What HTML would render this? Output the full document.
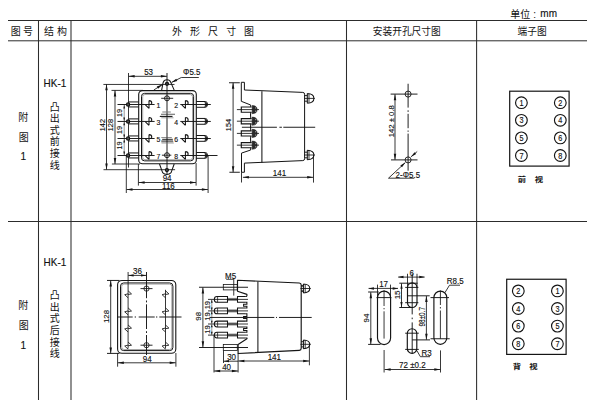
<!DOCTYPE html>
<html lang="zh"><head><meta charset="utf-8"><title>HK-1 外形及安装开孔尺寸图</title>
<style>
html,body{margin:0;padding:0;background:#fff}
body{width:600px;height:400px;overflow:hidden;font-family:"Liberation Sans","Noto Sans CJK SC",sans-serif}
svg{display:block}
svg text{font-family:"Liberation Sans","Noto Sans CJK SC",sans-serif}
</style></head><body>
<svg width="600" height="400" viewBox="0 0 600 400">
<title>HK-1 外形尺寸图 / 安装开孔尺寸图 / 端子图（单位：mm）</title>
<desc>图号 结构 外形尺寸图 安装开孔尺寸图 端子图；附图1 HK-1 凸出式前接线（前视）；附图1 HK-1 凸出式后接线（背视）</desc>
<rect width="600" height="400" fill="#fff"/>
<line x1="8" y1="20.5" x2="587" y2="20.5" stroke="#2c2c2c" stroke-width="1"/>
<line x1="8" y1="40.8" x2="587" y2="40.8" stroke="#2c2c2c" stroke-width="1"/>
<line x1="8" y1="221.5" x2="587" y2="221.5" stroke="#2c2c2c" stroke-width="1"/>
<line x1="38.5" y1="20" x2="38.5" y2="400" stroke="#2c2c2c" stroke-width="1.05"/>
<line x1="71" y1="20" x2="71" y2="400" stroke="#2c2c2c" stroke-width="1.05"/>
<line x1="346.5" y1="20" x2="346.5" y2="400" stroke="#2c2c2c" stroke-width="1.05"/>
<line x1="476.6" y1="20" x2="476.6" y2="400" stroke="#2c2c2c" stroke-width="1.05"/>
<text transform="translate(10.75 35.1) scale(1 1.06)" font-size="10" text-anchor="start" fill="#111">图</text>
<text transform="translate(22.92 35.1) scale(1 1.06)" font-size="10" text-anchor="start" fill="#111">号</text>
<text transform="translate(44.04 35.1) scale(1 1.06)" font-size="10" text-anchor="start" fill="#111">结</text>
<text transform="translate(56.91 35.1) scale(1 1.06)" font-size="10" text-anchor="start" fill="#111">构</text>
<text transform="translate(171.98 35.1) scale(1 1.06)" font-size="10" text-anchor="start" fill="#111">外</text>
<text transform="translate(190 35.1) scale(1 1.06)" font-size="10" text-anchor="start" fill="#111">形</text>
<text transform="translate(208.04 35.1) scale(1 1.06)" font-size="10" text-anchor="start" fill="#111">尺</text>
<text transform="translate(226.25 35.1) scale(1 1.06)" font-size="10" text-anchor="start" fill="#111">寸</text>
<text transform="translate(244.09 35.1) scale(1 1.06)" font-size="10" text-anchor="start" fill="#111">图</text>
<text transform="translate(372.8 35.1) scale(1 1.062)" font-size="9.7" text-anchor="start" fill="#111">安装开孔尺寸图</text>
<text transform="translate(517.6 35.1) scale(1 1.062)" font-size="9.7" text-anchor="start" fill="#111">端子图</text>
<text transform="translate(510.3 17.6) scale(1 1.06)" font-size="10" text-anchor="start" fill="#111">单位</text>
<text transform="translate(533.2 17.6) scale(1 1.06)" font-size="10" text-anchor="start" fill="#111">:</text>
<text transform="translate(540.3 17.4) scale(1 1)" font-size="10" text-anchor="start" fill="#111" stroke="#111" stroke-width="0.13">mm</text>
<text transform="translate(18.27 120.6) scale(1 1.06)" font-size="10" text-anchor="start" fill="#111">附</text>
<text transform="translate(18.75 140.6) scale(1 1.06)" font-size="10" text-anchor="start" fill="#111">图</text>
<text transform="translate(23.3 160.2) scale(1 1)" font-size="10" text-anchor="middle" fill="#111" stroke="#111" stroke-width="0.13">1</text>
<text transform="translate(18.27 309.1) scale(1 1.06)" font-size="10" text-anchor="start" fill="#111">附</text>
<text transform="translate(18.75 329.1) scale(1 1.06)" font-size="10" text-anchor="start" fill="#111">图</text>
<text transform="translate(23.3 348.7) scale(1 1)" font-size="10" text-anchor="middle" fill="#111" stroke="#111" stroke-width="0.13">1</text>
<text transform="translate(54.9 86.9) scale(1 1.07)" font-size="10" text-anchor="middle" fill="#111" stroke="#111" stroke-width="0.13">HK-1</text>
<text transform="translate(54.9 265.7) scale(1 1.07)" font-size="10" text-anchor="middle" fill="#111" stroke="#111" stroke-width="0.13">HK-1</text>
<text transform="translate(49.75 110.5) scale(1 1.06)" font-size="10" text-anchor="start" fill="#111">凸</text>
<text transform="translate(49.75 122.13) scale(1 1.06)" font-size="10" text-anchor="start" fill="#111">出</text>
<text transform="translate(49.75 133.76) scale(1 1.06)" font-size="10" text-anchor="start" fill="#111">式</text>
<text transform="translate(49.75 145.39) scale(1 1.06)" font-size="10" text-anchor="start" fill="#111">前</text>
<text transform="translate(49.75 157.02) scale(1 1.06)" font-size="10" text-anchor="start" fill="#111">接</text>
<text transform="translate(49.75 168.65) scale(1 1.06)" font-size="10" text-anchor="start" fill="#111">线</text>
<text transform="translate(49.75 299) scale(1 1.06)" font-size="10" text-anchor="start" fill="#111">凸</text>
<text transform="translate(49.75 310.68) scale(1 1.06)" font-size="10" text-anchor="start" fill="#111">出</text>
<text transform="translate(49.75 322.36) scale(1 1.06)" font-size="10" text-anchor="start" fill="#111">式</text>
<text transform="translate(49.75 334.04) scale(1 1.06)" font-size="10" text-anchor="start" fill="#111">后</text>
<text transform="translate(49.75 345.72) scale(1 1.06)" font-size="10" text-anchor="start" fill="#111">接</text>
<text transform="translate(49.75 357.4) scale(1 1.06)" font-size="10" text-anchor="start" fill="#111">线</text>
<rect x="138.7" y="90.65" width="57.6" height="73.15" rx="3.8" fill="none" stroke="#141414" stroke-width="1.1"/>
<rect x="141.5" y="93.35" width="52.1" height="67.5" rx="3" fill="none" stroke="#141414" stroke-width="1"/>
<rect x="142.7" y="94.5" width="49.8" height="65.2" rx="2.2" fill="none" stroke="#777" stroke-width="0.65"/>
<line x1="103.4" y1="84.45" x2="174.5" y2="84.45" stroke="#141414" stroke-width="0.85"/>
<line x1="103.5" y1="169.7" x2="175.1" y2="169.7" stroke="#141414" stroke-width="0.85"/>
<line x1="111.5" y1="90.4" x2="143" y2="90.4" stroke="#141414" stroke-width="0.85"/>
<line x1="111.9" y1="164" x2="140" y2="164" stroke="#141414" stroke-width="0.85"/>
<line x1="106.5" y1="84.3" x2="106.5" y2="169.6" stroke="#141414" stroke-width="0.85"/>
<path d="M106.5,84.3L107.75,90.3L105.25,90.3Z" fill="#141414"/>
<path d="M106.5,169.6L105.25,163.6L107.75,163.6Z" fill="#141414"/>
<line x1="115" y1="90.4" x2="115" y2="164" stroke="#141414" stroke-width="0.85"/>
<path d="M115,90.4L116.25,96.4L113.75,96.4Z" fill="#141414"/>
<path d="M115,164L113.75,158L116.25,158Z" fill="#141414"/>
<text transform="translate(105 125.1) rotate(-90) scale(1 1)" font-size="7.4" text-anchor="middle" fill="#111" stroke="#111" stroke-width="0.13">142</text>
<text transform="translate(113.4 125.1) rotate(-90) scale(1 1)" font-size="7.4" text-anchor="middle" fill="#111" stroke="#111" stroke-width="0.13">128</text>
<line x1="124.2" y1="104.5" x2="124.2" y2="121.45" stroke="#444" stroke-width="0.55"/>
<path d="M124.2,104.8L125.08,108.4L123.33,108.4Z" fill="#141414"/>
<path d="M124.2,121.15L123.33,117.55L125.08,117.55Z" fill="#141414"/>
<text transform="translate(122.2 112.97) rotate(-90) scale(1 1)" font-size="7.4" text-anchor="middle" fill="#111" stroke="#111" stroke-width="0.13">19</text>
<line x1="124.2" y1="121.45" x2="124.2" y2="138.5" stroke="#444" stroke-width="0.55"/>
<path d="M124.2,121.75L125.08,125.35L123.33,125.35Z" fill="#141414"/>
<path d="M124.2,138.2L123.33,134.6L125.08,134.6Z" fill="#141414"/>
<text transform="translate(122.2 129.97) rotate(-90) scale(1 1)" font-size="7.4" text-anchor="middle" fill="#111" stroke="#111" stroke-width="0.13">19</text>
<line x1="124.2" y1="138.5" x2="124.2" y2="155.5" stroke="#444" stroke-width="0.55"/>
<path d="M124.2,138.8L125.08,142.4L123.33,142.4Z" fill="#141414"/>
<path d="M124.2,155.2L123.33,151.6L125.08,151.6Z" fill="#141414"/>
<text transform="translate(122.2 145.4) rotate(-90) scale(1 1)" font-size="7.4" text-anchor="middle" fill="#111" stroke="#111" stroke-width="0.13">19</text>
<line x1="128.5" y1="73" x2="128.5" y2="167.5" stroke="#141414" stroke-width="0.85"/>
<line x1="167" y1="73" x2="167" y2="174.5" stroke="#141414" stroke-width="0.95"/>
<line x1="128.6" y1="76.3" x2="166.9" y2="76.3" stroke="#141414" stroke-width="0.85"/>
<path d="M128.6,76.3L134.6,75.05L134.6,77.55Z" fill="#141414"/>
<path d="M166.9,76.3L160.9,77.55L160.9,75.05Z" fill="#141414"/>
<text transform="translate(148.6 75.2) scale(1 1.12)" font-size="8" text-anchor="middle" fill="#111" stroke="#111" stroke-width="0.13">53</text>
<line x1="117.5" y1="104.5" x2="154.6" y2="104.5" stroke="#141414" stroke-width="0.95"/>
<circle cx="128.1" cy="104.5" r="1.6" fill="#555" stroke="#141414" stroke-width="1.2"/>
<line x1="128.5" y1="101.95" x2="138.6" y2="101.95" stroke="#141414" stroke-width="1"/>
<line x1="128.5" y1="106.95" x2="138.6" y2="106.95" stroke="#141414" stroke-width="1"/>
<path d="M149,100.6V108.4M149,100.6C150.6,100.6 151.8,101.8 151.8,103.2C151.8,104 151.1,104.5 150,104.5M149,108.4L145.4,104.9" fill="none" stroke="#141414" stroke-width="1.05"/>
<line x1="180.3" y1="104.5" x2="210.8" y2="104.5" stroke="#141414" stroke-width="0.95"/>
<path d="M185.4,100.6V108.4M185.4,100.6C187,100.6 188.2,101.8 188.2,103.2C188.2,104 187.5,104.5 186.4,104.5M185.4,108.4L181.8,104.9" fill="none" stroke="#141414" stroke-width="1.05"/>
<path d="M196.4,101.5H205.4Q207.4,101.5 207.4,104.3Q207.4,107.3 205.4,107.3H196.4" fill="none" stroke="#141414" stroke-width="1"/>
<path d="M204.8,101.9L208,104.5L204.8,106.9L205.6,104.5Z" fill="#141414" stroke="#141414" stroke-width="0.55"/>
<text transform="translate(158.5 107.7) scale(1 1.15)" font-size="6.9" text-anchor="middle" fill="#111" stroke="#111" stroke-width="0.13">1</text>
<text transform="translate(176.1 107.7) scale(1 1.15)" font-size="6.9" text-anchor="middle" fill="#111" stroke="#111" stroke-width="0.13">2</text>
<line x1="117.5" y1="121.45" x2="154.6" y2="121.45" stroke="#141414" stroke-width="0.95"/>
<circle cx="128.1" cy="121.45" r="1.6" fill="#555" stroke="#141414" stroke-width="1.2"/>
<line x1="128.5" y1="118.9" x2="138.6" y2="118.9" stroke="#141414" stroke-width="1"/>
<line x1="128.5" y1="123.9" x2="138.6" y2="123.9" stroke="#141414" stroke-width="1"/>
<path d="M149,117.55V125.35M149,117.55C150.6,117.55 151.8,118.75 151.8,120.15C151.8,120.95 151.1,121.45 150,121.45M149,125.35L145.4,121.85" fill="none" stroke="#141414" stroke-width="1.05"/>
<line x1="180.3" y1="121.45" x2="210.8" y2="121.45" stroke="#141414" stroke-width="0.95"/>
<path d="M185.4,117.55V125.35M185.4,117.55C187,117.55 188.2,118.75 188.2,120.15C188.2,120.95 187.5,121.45 186.4,121.45M185.4,125.35L181.8,121.85" fill="none" stroke="#141414" stroke-width="1.05"/>
<path d="M196.4,118.45H205.4Q207.4,118.45 207.4,121.25Q207.4,124.25 205.4,124.25H196.4" fill="none" stroke="#141414" stroke-width="1"/>
<path d="M204.8,118.85L208,121.45L204.8,123.85L205.6,121.45Z" fill="#141414" stroke="#141414" stroke-width="0.55"/>
<text transform="translate(158.5 124.65) scale(1 1.15)" font-size="6.9" text-anchor="middle" fill="#111" stroke="#111" stroke-width="0.13">3</text>
<text transform="translate(176.1 124.65) scale(1 1.15)" font-size="6.9" text-anchor="middle" fill="#111" stroke="#111" stroke-width="0.13">4</text>
<line x1="117.5" y1="138.5" x2="154.6" y2="138.5" stroke="#141414" stroke-width="0.95"/>
<circle cx="128.1" cy="138.5" r="1.6" fill="#555" stroke="#141414" stroke-width="1.2"/>
<line x1="128.5" y1="135.95" x2="138.6" y2="135.95" stroke="#141414" stroke-width="1"/>
<line x1="128.5" y1="140.95" x2="138.6" y2="140.95" stroke="#141414" stroke-width="1"/>
<path d="M149,134.6V142.4M149,134.6C150.6,134.6 151.8,135.8 151.8,137.2C151.8,138 151.1,138.5 150,138.5M149,142.4L145.4,138.9" fill="none" stroke="#141414" stroke-width="1.05"/>
<line x1="180.3" y1="138.5" x2="210.8" y2="138.5" stroke="#141414" stroke-width="0.95"/>
<path d="M185.4,134.6V142.4M185.4,134.6C187,134.6 188.2,135.8 188.2,137.2C188.2,138 187.5,138.5 186.4,138.5M185.4,142.4L181.8,138.9" fill="none" stroke="#141414" stroke-width="1.05"/>
<path d="M196.4,135.5H205.4Q207.4,135.5 207.4,138.3Q207.4,141.3 205.4,141.3H196.4" fill="none" stroke="#141414" stroke-width="1"/>
<path d="M204.8,135.9L208,138.5L204.8,140.9L205.6,138.5Z" fill="#141414" stroke="#141414" stroke-width="0.55"/>
<text transform="translate(158.5 141.7) scale(1 1.15)" font-size="6.9" text-anchor="middle" fill="#111" stroke="#111" stroke-width="0.13">5</text>
<text transform="translate(176.1 141.7) scale(1 1.15)" font-size="6.9" text-anchor="middle" fill="#111" stroke="#111" stroke-width="0.13">6</text>
<line x1="117.5" y1="155.5" x2="154.6" y2="155.5" stroke="#141414" stroke-width="0.95"/>
<circle cx="128.1" cy="155.5" r="1.6" fill="#555" stroke="#141414" stroke-width="1.2"/>
<line x1="128.5" y1="152.95" x2="138.6" y2="152.95" stroke="#141414" stroke-width="1"/>
<line x1="128.5" y1="157.95" x2="138.6" y2="157.95" stroke="#141414" stroke-width="1"/>
<path d="M149,151.6V159.4M149,151.6C150.6,151.6 151.8,152.8 151.8,154.2C151.8,155 151.1,155.5 150,155.5M149,159.4L145.4,155.9" fill="none" stroke="#141414" stroke-width="1.05"/>
<line x1="180.3" y1="155.5" x2="217.5" y2="155.5" stroke="#141414" stroke-width="0.95"/>
<path d="M185.4,151.6V159.4M185.4,151.6C187,151.6 188.2,152.8 188.2,154.2C188.2,155 187.5,155.5 186.4,155.5M185.4,159.4L181.8,155.9" fill="none" stroke="#141414" stroke-width="1.05"/>
<path d="M196.4,152.5H205.4Q207.4,152.5 207.4,155.3Q207.4,158.3 205.4,158.3H196.4" fill="none" stroke="#141414" stroke-width="1"/>
<path d="M204.8,152.9L208,155.5L204.8,157.9L205.6,155.5Z" fill="#141414" stroke="#141414" stroke-width="0.55"/>
<text transform="translate(158.5 158.7) scale(1 1.15)" font-size="6.9" text-anchor="middle" fill="#111" stroke="#111" stroke-width="0.13">7</text>
<text transform="translate(176.1 158.7) scale(1 1.15)" font-size="6.9" text-anchor="middle" fill="#111" stroke="#111" stroke-width="0.13">8</text>
<circle cx="167" cy="98.3" r="2.5" fill="none" stroke="#141414" stroke-width="0.95"/>
<line x1="161.2" y1="98.3" x2="173.2" y2="98.3" stroke="#141414" stroke-width="0.9"/>
<circle cx="167" cy="155.2" r="2.5" fill="none" stroke="#141414" stroke-width="0.95"/>
<line x1="161.9" y1="155.2" x2="171.3" y2="155.2" stroke="#141414" stroke-width="0.9"/>
<line x1="162.3" y1="112" x2="170.8" y2="112" stroke="#777" stroke-width="0.95"/>
<line x1="161" y1="114.25" x2="175" y2="114.25" stroke="#2a2a2a" stroke-width="0.75"/>
<line x1="159.8" y1="116.4" x2="172.5" y2="116.4" stroke="#141414" stroke-width="1.1"/>
<line x1="161.3" y1="117.8" x2="173.5" y2="117.8" stroke="#777" stroke-width="0.7"/>
<line x1="161.3" y1="137.5" x2="171.8" y2="137.5" stroke="#444" stroke-width="0.6"/>
<line x1="162.2" y1="139.3" x2="172.8" y2="139.3" stroke="#141414" stroke-width="0.95"/>
<line x1="161.3" y1="140.75" x2="173" y2="140.75" stroke="#333" stroke-width="0.65"/>
<line x1="161.3" y1="141.8" x2="173.3" y2="141.8" stroke="#141414" stroke-width="0.7"/>
<line x1="161.5" y1="143.1" x2="173.8" y2="143.1" stroke="#777" stroke-width="0.6"/>
<path d="M161.6,90.4L163.1,82.6A4.1,4.1 0 0 1 170.9,82.6L174.3,90.4" fill="none" stroke="#141414" stroke-width="1.05"/>
<circle cx="167" cy="83.8" r="1.5" fill="#444" stroke="#141414" stroke-width="1.25"/>
<path d="M159.5,164L162.6,172.6A5.7,5.7 0 0 0 171.1,172.6L174.2,164" fill="none" stroke="#141414" stroke-width="1.05"/>
<circle cx="166.9" cy="170" r="1.5" fill="#555" stroke="#141414" stroke-width="1.25"/>
<text transform="translate(183 75) scale(1 1.12)" font-size="8" text-anchor="start" fill="#111" stroke="#111" stroke-width="0.13">Φ5.5</text>
<path d="M198.8,77.5H181.3L171.6,82.4" fill="none" stroke="#141414" stroke-width="0.85"/>
<path d="M171.4,82.5L176.19,78.68L177.32,80.91Z" fill="#141414"/>
<line x1="153.8" y1="90" x2="162.3" y2="84.6" stroke="#141414" stroke-width="0.85"/>
<path d="M162.5,84.4L158.13,88.7L156.78,86.6Z" fill="#141414"/>
<line x1="138.4" y1="164" x2="138.4" y2="185.6" stroke="#141414" stroke-width="0.85"/>
<line x1="196.1" y1="163" x2="196.1" y2="185.6" stroke="#141414" stroke-width="0.85"/>
<line x1="138.6" y1="182.5" x2="196" y2="182.5" stroke="#141414" stroke-width="0.85"/>
<path d="M138.6,182.5L144.6,181.25L144.6,183.75Z" fill="#141414"/>
<path d="M196,182.5L190,183.75L190,181.25Z" fill="#141414"/>
<text transform="translate(167.1 180.8) scale(1 1.12)" font-size="8" text-anchor="middle" fill="#111" stroke="#111" stroke-width="0.13">94</text>
<line x1="126.3" y1="156" x2="126.3" y2="193" stroke="#141414" stroke-width="0.85"/>
<line x1="208.1" y1="155.6" x2="208.1" y2="193" stroke="#141414" stroke-width="0.85"/>
<line x1="126.5" y1="189.5" x2="207.9" y2="189.5" stroke="#141414" stroke-width="0.85"/>
<path d="M126.5,189.5L132.5,188.25L132.5,190.75Z" fill="#141414"/>
<path d="M207.9,189.5L201.9,190.75L201.9,188.25Z" fill="#141414"/>
<text transform="translate(168.4 188.8) scale(1 1.12)" font-size="8" text-anchor="middle" fill="#111" stroke="#111" stroke-width="0.13">116</text>
<line x1="229" y1="82.75" x2="239.8" y2="82.75" stroke="#141414" stroke-width="0.95"/>
<line x1="229.4" y1="172.25" x2="239.8" y2="172.25" stroke="#141414" stroke-width="0.95"/>
<line x1="233.1" y1="82.75" x2="233.1" y2="172.25" stroke="#141414" stroke-width="0.85"/>
<path d="M233.1,82.75L234.35,88.75L231.85,88.75Z" fill="#141414"/>
<path d="M233.1,172.25L231.85,166.25L234.35,166.25Z" fill="#141414"/>
<text transform="translate(231 125) rotate(-90) scale(1 1)" font-size="7.4" text-anchor="middle" fill="#111" stroke="#111" stroke-width="0.13">154</text>
<path d="M241.3,101.3V82.3H244.4V90L302.8,92.4Q304.6,92.5 304.6,94.2V158.8Q304.6,160.5 302.8,160.6L244.4,163.1V172.25H241.5" fill="none" stroke="#141414" stroke-width="1" stroke-linejoin="round"/>
<path d="M241.3,101.3L250.7,105V106.9" fill="none" stroke="#141414" stroke-width="1"/>
<path d="M250.7,147.6V150L241.5,153.1" fill="none" stroke="#141414" stroke-width="1"/>
<line x1="241.5" y1="153.1" x2="241.5" y2="172.25" stroke="#141414" stroke-width="1"/>
<line x1="241.5" y1="172.25" x2="241.5" y2="182.5" stroke="#141414" stroke-width="0.85"/>
<line x1="236.9" y1="109.6" x2="259" y2="109.6" stroke="#141414" stroke-width="0.85"/>
<path d="M251.6,107H241.3V112.2H251.6" fill="none" stroke="#141414" stroke-width="1.15"/>
<path d="M252.2,105.5Q257.2,105.7 257.1,109.6Q257.2,113.5 252.2,113.7Z" fill="#2a2a2a" stroke="#141414" stroke-width="0.55"/>
<path d="M255.7,107.3v1.3M255.7,110.6v1.3" stroke="#ddd" stroke-width="0.7" fill="none"/>
<path d="M250.8,112.2Q250.2,115.4 250.8,118.6" fill="none" stroke="#141414" stroke-width="1.05"/>
<line x1="236.9" y1="121.2" x2="259" y2="121.2" stroke="#141414" stroke-width="0.85"/>
<path d="M251.6,118.6H241.3V123.8H251.6" fill="none" stroke="#141414" stroke-width="1.15"/>
<path d="M252.2,117.1Q257.2,117.3 257.1,121.2Q257.2,125.1 252.2,125.3Z" fill="#2a2a2a" stroke="#141414" stroke-width="0.55"/>
<path d="M255.7,118.9v1.3M255.7,122.2v1.3" stroke="#ddd" stroke-width="0.7" fill="none"/>
<path d="M250.8,123.8Q250.2,127.3 250.8,130.8" fill="none" stroke="#141414" stroke-width="1.05"/>
<line x1="236.9" y1="133.4" x2="259" y2="133.4" stroke="#141414" stroke-width="0.85"/>
<path d="M251.6,130.8H241.3V136H251.6" fill="none" stroke="#141414" stroke-width="1.15"/>
<path d="M252.2,129.3Q257.2,129.5 257.1,133.4Q257.2,137.3 252.2,137.5Z" fill="#2a2a2a" stroke="#141414" stroke-width="0.55"/>
<path d="M255.7,131.1v1.3M255.7,134.4v1.3" stroke="#ddd" stroke-width="0.7" fill="none"/>
<path d="M250.8,136Q250.2,139.28 250.8,142.55" fill="none" stroke="#141414" stroke-width="1.05"/>
<line x1="236.9" y1="145.15" x2="259" y2="145.15" stroke="#141414" stroke-width="0.85"/>
<path d="M251.6,142.55H241.3V147.75H251.6" fill="none" stroke="#141414" stroke-width="1.15"/>
<path d="M252.2,141.05Q257.2,141.25 257.1,145.15Q257.2,149.05 252.2,149.25Z" fill="#2a2a2a" stroke="#141414" stroke-width="0.55"/>
<path d="M255.7,142.85v1.3M255.7,146.15v1.3" stroke="#ddd" stroke-width="0.7" fill="none"/>
<line x1="261.9" y1="91.2" x2="261.9" y2="162.4" stroke="#141414" stroke-width="1.05"/>
<line x1="241.9" y1="127.25" x2="276.9" y2="127.25" stroke="#141414" stroke-width="0.95"/>
<line x1="279.4" y1="127.25" x2="281.9" y2="127.25" stroke="#141414" stroke-width="0.95"/>
<line x1="283.3" y1="127.25" x2="315.2" y2="127.25" stroke="#141414" stroke-width="0.95"/>
<path d="M304.6,95.6H307.3M304.6,101.2H307.3" fill="none" stroke="#141414" stroke-width="0.95"/>
<path d="M307.3,93.6V103.2M307.3,93.6Q313.9,93.9 313.9,98.4Q313.9,102.9 307.3,103.2" fill="none" stroke="#141414" stroke-width="1.05"/>
<line x1="304" y1="98.4" x2="314.9" y2="98.4" stroke="#141414" stroke-width="0.85"/>
<line x1="309" y1="93.9" x2="309" y2="102.9" stroke="#141414" stroke-width="0.85"/>
<path d="M304.6,152.2H307.3M304.6,157.8H307.3" fill="none" stroke="#141414" stroke-width="0.95"/>
<path d="M307.3,150.2V159.8M307.3,150.2Q313.9,150.5 313.9,155Q313.9,159.5 307.3,159.8" fill="none" stroke="#141414" stroke-width="1.05"/>
<line x1="304" y1="155" x2="314.9" y2="155" stroke="#141414" stroke-width="0.85"/>
<line x1="309" y1="150.5" x2="309" y2="159.5" stroke="#141414" stroke-width="0.85"/>
<line x1="313.5" y1="155" x2="313.5" y2="182.6" stroke="#141414" stroke-width="0.85"/>
<line x1="242.9" y1="177.3" x2="313.2" y2="177.3" stroke="#141414" stroke-width="0.85"/>
<path d="M242.9,177.3L248.9,176.05L248.9,178.55Z" fill="#141414"/>
<path d="M313.2,177.3L307.2,178.55L307.2,176.05Z" fill="#141414"/>
<text transform="translate(279.5 175.8) scale(1 1.12)" font-size="8" text-anchor="middle" fill="#111" stroke="#111" stroke-width="0.13">141</text>
<circle cx="408.1" cy="94.1" r="3" fill="none" stroke="#141414" stroke-width="0.9"/>
<circle cx="408.1" cy="159.9" r="3" fill="none" stroke="#141414" stroke-width="0.9"/>
<line x1="390.6" y1="94.1" x2="417.5" y2="94.1" stroke="#141414" stroke-width="0.95"/>
<line x1="391" y1="159.9" x2="417.5" y2="159.9" stroke="#141414" stroke-width="0.95"/>
<line x1="408.1" y1="83.75" x2="408.1" y2="107.6" stroke="#141414" stroke-width="0.95"/>
<line x1="408.1" y1="110.3" x2="408.1" y2="111.9" stroke="#141414" stroke-width="0.95"/>
<line x1="408.1" y1="113.8" x2="408.1" y2="128.2" stroke="#141414" stroke-width="0.95"/>
<line x1="408.1" y1="130.5" x2="408.1" y2="131.8" stroke="#141414" stroke-width="0.95"/>
<line x1="408.1" y1="133.6" x2="408.1" y2="170.7" stroke="#141414" stroke-width="0.95"/>
<line x1="395" y1="94.3" x2="395" y2="159.7" stroke="#141414" stroke-width="0.85"/>
<path d="M395,94.3L396.25,100.3L393.75,100.3Z" fill="#141414"/>
<path d="M395,159.7L393.75,153.7L396.25,153.7Z" fill="#141414"/>
<text transform="translate(393.6 121.2) rotate(-90) scale(1 1)" font-size="7.7" text-anchor="middle" fill="#111" stroke="#111" stroke-width="0.13">142 ± 0.8</text>
<path d="M414.3,178.2H388.5L405.2,162.7" fill="none" stroke="#141414" stroke-width="0.85"/>
<path d="M405.6,162.3L402.01,167.27L400.32,165.42Z" fill="#141414"/>
<text transform="translate(395.4 177.6) scale(1 1.05)" font-size="7.9" text-anchor="start" fill="#111" stroke="#111" stroke-width="0.13" letter-spacing="0.12">2-Φ5.5</text>
<line x1="417.2" y1="151.5" x2="411.2" y2="156.7" stroke="#141414" stroke-width="0.85"/>
<path d="M410.8,157.1L414.51,152.22L416.15,154.11Z" fill="#141414"/>
<rect x="509.7" y="91.2" width="59.4" height="74.9" fill="none" stroke="#141414" stroke-width="1.2"/>
<circle cx="521.4" cy="102.7" r="5.85" fill="none" stroke="#141414" stroke-width="1.15"/>
<text transform="translate(521.4 105.8) scale(1 1.17)" font-size="7.3" text-anchor="middle" fill="#111" stroke="#111" stroke-width="0.13">1</text>
<circle cx="560.3" cy="102.7" r="5.85" fill="none" stroke="#141414" stroke-width="1.15"/>
<text transform="translate(560.3 105.8) scale(1 1.17)" font-size="7.3" text-anchor="middle" fill="#111" stroke="#111" stroke-width="0.13">2</text>
<circle cx="521.4" cy="120.3" r="5.85" fill="none" stroke="#141414" stroke-width="1.15"/>
<text transform="translate(521.4 123.4) scale(1 1.17)" font-size="7.3" text-anchor="middle" fill="#111" stroke="#111" stroke-width="0.13">3</text>
<circle cx="560.3" cy="120.3" r="5.85" fill="none" stroke="#141414" stroke-width="1.15"/>
<text transform="translate(560.3 123.4) scale(1 1.17)" font-size="7.3" text-anchor="middle" fill="#111" stroke="#111" stroke-width="0.13">4</text>
<circle cx="521.4" cy="137.9" r="5.85" fill="none" stroke="#141414" stroke-width="1.15"/>
<text transform="translate(521.4 141) scale(1 1.17)" font-size="7.3" text-anchor="middle" fill="#111" stroke="#111" stroke-width="0.13">5</text>
<circle cx="560.3" cy="137.9" r="5.85" fill="none" stroke="#141414" stroke-width="1.15"/>
<text transform="translate(560.3 141) scale(1 1.17)" font-size="7.3" text-anchor="middle" fill="#111" stroke="#111" stroke-width="0.13">6</text>
<circle cx="521.4" cy="155.5" r="5.85" fill="none" stroke="#141414" stroke-width="1.15"/>
<text transform="translate(521.4 158.6) scale(1 1.17)" font-size="7.3" text-anchor="middle" fill="#111" stroke="#111" stroke-width="0.13">7</text>
<circle cx="560.3" cy="155.5" r="5.85" fill="none" stroke="#141414" stroke-width="1.15"/>
<text transform="translate(560.3 158.6) scale(1 1.17)" font-size="7.3" text-anchor="middle" fill="#111" stroke="#111" stroke-width="0.13">8</text>
<text transform="translate(517.85 182.3) scale(1 0.867)" font-size="8.3" font-weight="bold" text-anchor="start" fill="#111">前</text>
<text transform="translate(534.64 182.3) scale(1 0.867)" font-size="8.3" font-weight="bold" text-anchor="start" fill="#111">视</text>
<rect x="117.6" y="280.45" width="58.2" height="72.85" rx="4.4" fill="none" stroke="#141414" stroke-width="1.1"/>
<rect x="120.5" y="282.95" width="52.4" height="67.65" rx="3.2" fill="none" stroke="#141414" stroke-width="1"/>
<rect x="121.7" y="284.1" width="50.1" height="65.4" rx="2.4" fill="none" stroke="#777" stroke-width="0.65"/>
<line x1="128.1" y1="272" x2="128.1" y2="348.6" stroke="#141414" stroke-width="0.85"/>
<line x1="146.5" y1="272" x2="146.5" y2="298.2" stroke="#141414" stroke-width="0.95"/>
<line x1="146.5" y1="300.5" x2="146.5" y2="302.4" stroke="#141414" stroke-width="0.95"/>
<line x1="146.5" y1="304.3" x2="146.5" y2="329" stroke="#141414" stroke-width="0.95"/>
<line x1="146.5" y1="331.2" x2="146.5" y2="333" stroke="#141414" stroke-width="0.95"/>
<line x1="146.5" y1="335" x2="146.5" y2="355" stroke="#141414" stroke-width="0.95"/>
<line x1="128.2" y1="275.4" x2="146.4" y2="275.4" stroke="#141414" stroke-width="0.85"/>
<path d="M128.2,275.4L133.6,274.27L133.6,276.52Z" fill="#141414"/>
<path d="M146.4,275.4L141,276.52L141,274.27Z" fill="#141414"/>
<text transform="translate(137.5 273.8) scale(1 1.12)" font-size="8" text-anchor="middle" fill="#111" stroke="#111" stroke-width="0.13">36</text>
<line x1="107" y1="280.45" x2="119.5" y2="280.45" stroke="#141414" stroke-width="0.95"/>
<line x1="107" y1="353.4" x2="119.5" y2="353.4" stroke="#141414" stroke-width="0.95"/>
<line x1="110.7" y1="280.45" x2="110.7" y2="353.4" stroke="#141414" stroke-width="0.85"/>
<path d="M110.7,280.45L111.95,286.45L109.45,286.45Z" fill="#141414"/>
<path d="M110.7,353.4L109.45,347.4L111.95,347.4Z" fill="#141414"/>
<text transform="translate(108.8 316.5) rotate(-90) scale(1 1)" font-size="7.8" text-anchor="middle" fill="#111" stroke="#111" stroke-width="0.13">128</text>
<line x1="117.3" y1="317" x2="132.7" y2="317" stroke="#141414" stroke-width="0.95"/>
<line x1="134.7" y1="317" x2="136" y2="317" stroke="#141414" stroke-width="0.95"/>
<line x1="138.7" y1="317" x2="154.7" y2="317" stroke="#141414" stroke-width="0.95"/>
<line x1="156" y1="317" x2="157.3" y2="317" stroke="#141414" stroke-width="0.95"/>
<line x1="159.3" y1="317" x2="181.5" y2="317" stroke="#141414" stroke-width="0.95"/>
<circle cx="146.5" cy="288.6" r="2.6" fill="none" stroke="#141414" stroke-width="0.85"/>
<line x1="140.5" y1="288.6" x2="152.5" y2="288.6" stroke="#141414" stroke-width="0.9"/>
<circle cx="146.5" cy="345.2" r="2.6" fill="none" stroke="#141414" stroke-width="0.85"/>
<line x1="140.5" y1="345.2" x2="152.5" y2="345.2" stroke="#141414" stroke-width="0.9"/>
<path d="M128.1,290.8L131.5,293.9L128.1,294.5M128.1,293.8L124.7,294.7L128.1,297.8" fill="none" stroke="#141414" stroke-width="0.85"/>
<path d="M165.5,290.8L168.9,293.9L165.5,294.5M165.5,293.8L162.1,294.7L165.5,297.8" fill="none" stroke="#141414" stroke-width="0.85"/>
<path d="M128.1,307.9L131.5,311L128.1,311.6M128.1,310.9L124.7,311.8L128.1,314.9" fill="none" stroke="#141414" stroke-width="0.85"/>
<path d="M165.5,307.9L168.9,311L165.5,311.6M165.5,310.9L162.1,311.8L165.5,314.9" fill="none" stroke="#141414" stroke-width="0.85"/>
<path d="M128.1,325L131.5,328.1L128.1,328.7M128.1,328L124.7,328.9L128.1,332" fill="none" stroke="#141414" stroke-width="0.85"/>
<path d="M165.5,325L168.9,328.1L165.5,328.7M165.5,328L162.1,328.9L165.5,332" fill="none" stroke="#141414" stroke-width="0.85"/>
<path d="M128.1,342.1L131.5,345.2L128.1,345.8M128.1,345.1L124.7,346L128.1,349.1" fill="none" stroke="#141414" stroke-width="0.85"/>
<path d="M165.5,342.1L168.9,345.2L165.5,345.8M165.5,345.1L162.1,346L165.5,349.1" fill="none" stroke="#141414" stroke-width="0.85"/>
<line x1="165.5" y1="289.8" x2="165.5" y2="348.6" stroke="#141414" stroke-width="0.85"/>
<line x1="117.6" y1="353" x2="117.6" y2="366.7" stroke="#141414" stroke-width="0.85"/>
<line x1="175.9" y1="353" x2="175.9" y2="366.7" stroke="#141414" stroke-width="0.85"/>
<line x1="117.8" y1="362.8" x2="175.7" y2="362.8" stroke="#141414" stroke-width="0.85"/>
<path d="M117.8,362.8L123.8,361.55L123.8,364.05Z" fill="#141414"/>
<path d="M175.7,362.8L169.7,364.05L169.7,361.55Z" fill="#141414"/>
<text transform="translate(147.3 361.6) scale(1 1.12)" font-size="8" text-anchor="middle" fill="#111" stroke="#111" stroke-width="0.13">94</text>
<text transform="translate(230.6 278.7) scale(1 1.12)" font-size="8" text-anchor="middle" fill="#111" stroke="#111" stroke-width="0.13">M5</text>
<line x1="233.75" y1="279.4" x2="233.75" y2="295.6" stroke="#141414" stroke-width="0.85"/>
<line x1="226.2" y1="279.5" x2="234.2" y2="279.5" stroke="#333" stroke-width="0.75"/>
<rect x="223.3" y="284.4" width="14" height="5.5" fill="none" stroke="#141414" stroke-width="0.8"/>
<line x1="199" y1="287.25" x2="248" y2="287.25" stroke="#141414" stroke-width="0.95"/>
<rect x="223.3" y="344.4" width="14" height="6" fill="none" stroke="#141414" stroke-width="0.8"/>
<line x1="199" y1="347.5" x2="248" y2="347.5" stroke="#141414" stroke-width="0.95"/>
<line x1="202.9" y1="287.4" x2="202.9" y2="347.3" stroke="#141414" stroke-width="0.85"/>
<path d="M202.9,287.4L204.15,293.4L201.65,293.4Z" fill="#141414"/>
<path d="M202.9,347.3L201.65,341.3L204.15,341.3Z" fill="#141414"/>
<text transform="translate(201 316.3) rotate(-90) scale(1 1)" font-size="7.8" text-anchor="middle" fill="#111" stroke="#111" stroke-width="0.13">98</text>
<rect x="227.5" y="297.9" width="10" height="3" fill="#858585"/>
<line x1="208" y1="299.4" x2="248" y2="299.4" stroke="#141414" stroke-width="0.85"/>
<path d="M227.5,296.5H217Q214.3,296.5 214.3,299.4Q214.3,302.3 217,302.3H227.5Z" fill="none" stroke="#141414" stroke-width="1.05"/>
<line x1="217.6" y1="296.5" x2="217.6" y2="302.3" stroke="#141414" stroke-width="0.75"/>
<path d="M245.2,296.5H237.5V302.3H245.2" fill="none" stroke="#141414" stroke-width="1.05"/>
<rect x="227.5" y="309.4" width="10" height="3" fill="#858585"/>
<line x1="208" y1="310.9" x2="248" y2="310.9" stroke="#141414" stroke-width="0.85"/>
<path d="M227.5,308H217Q214.3,308 214.3,310.9Q214.3,313.8 217,313.8H227.5Z" fill="none" stroke="#141414" stroke-width="1.05"/>
<line x1="217.6" y1="308" x2="217.6" y2="313.8" stroke="#141414" stroke-width="0.75"/>
<path d="M245.2,308H237.5V313.8H245.2" fill="none" stroke="#141414" stroke-width="1.05"/>
<rect x="227.5" y="322.5" width="10" height="3" fill="#858585"/>
<line x1="208" y1="324" x2="248" y2="324" stroke="#141414" stroke-width="0.85"/>
<path d="M227.5,321.1H217Q214.3,321.1 214.3,324Q214.3,326.9 217,326.9H227.5Z" fill="none" stroke="#141414" stroke-width="1.05"/>
<line x1="217.6" y1="321.1" x2="217.6" y2="326.9" stroke="#141414" stroke-width="0.75"/>
<path d="M245.2,321.1H237.5V326.9H245.2" fill="none" stroke="#141414" stroke-width="1.05"/>
<rect x="227.5" y="333.6" width="10" height="3" fill="#858585"/>
<line x1="208" y1="335.1" x2="248" y2="335.1" stroke="#141414" stroke-width="0.85"/>
<path d="M227.5,332.2H217Q214.3,332.2 214.3,335.1Q214.3,338 217,338H227.5Z" fill="none" stroke="#141414" stroke-width="1.05"/>
<line x1="217.6" y1="332.2" x2="217.6" y2="338" stroke="#141414" stroke-width="0.75"/>
<path d="M245.2,332.2H237.5V338H245.2" fill="none" stroke="#141414" stroke-width="1.05"/>
<line x1="211.8" y1="299.4" x2="211.8" y2="310.9" stroke="#444" stroke-width="0.55"/>
<path d="M211.8,299.6L212.68,302.72L210.93,302.72Z" fill="#141414"/>
<path d="M211.8,310.7L210.93,307.58L212.68,307.58Z" fill="#141414"/>
<text transform="translate(210 305.15) rotate(-90) scale(1 1)" font-size="7.6" text-anchor="middle" fill="#111" stroke="#111" stroke-width="0.13">19</text>
<line x1="211.8" y1="310.9" x2="211.8" y2="324" stroke="#444" stroke-width="0.55"/>
<path d="M211.8,311.1L212.68,314.22L210.93,314.22Z" fill="#141414"/>
<path d="M211.8,323.8L210.93,320.68L212.68,320.68Z" fill="#141414"/>
<text transform="translate(210 316.55) rotate(-90) scale(1 1)" font-size="7.6" text-anchor="middle" fill="#111" stroke="#111" stroke-width="0.13">19</text>
<line x1="211.8" y1="324" x2="211.8" y2="335.1" stroke="#444" stroke-width="0.55"/>
<path d="M211.8,324.2L212.68,327.32L210.93,327.32Z" fill="#141414"/>
<path d="M211.8,334.9L210.93,331.78L212.68,331.78Z" fill="#141414"/>
<text transform="translate(210 329.55) rotate(-90) scale(1 1)" font-size="7.6" text-anchor="middle" fill="#111" stroke="#111" stroke-width="0.13">19</text>
<path d="M246.9,296.3V294.4L237.5,291.3V280.25L299.3,283Q301.2,283.1 301.2,285V348.3Q301.2,350.3 299.3,350.4L238.1,353.5V344.4L246.9,338.8V338.2" fill="none" stroke="#141414" stroke-width="1.15" stroke-linejoin="round"/>
<path d="M245.2,302.3H246.9V304.15H243.6V306.15H246.9V308H245.2" fill="none" stroke="#141414" stroke-width="1.05"/>
<path d="M245.2,313.8H246.9V316.45H243.6V318.45H246.9V321.1H245.2" fill="none" stroke="#141414" stroke-width="1.05"/>
<path d="M245.2,326.9H246.9V328.55H243.6V330.55H246.9V332.2H245.2" fill="none" stroke="#141414" stroke-width="1.05"/>
<path d="M245.2,296.5H246.9M245.2,338H246.9V338.8" fill="none" stroke="#141414" stroke-width="1.05"/>
<line x1="238.1" y1="353.5" x2="238.1" y2="372.5" stroke="#141414" stroke-width="0.85"/>
<line x1="257.9" y1="281.6" x2="257.9" y2="352.2" stroke="#141414" stroke-width="1.05"/>
<line x1="210" y1="317.45" x2="274.3" y2="317.45" stroke="#141414" stroke-width="0.95"/>
<line x1="276" y1="317.45" x2="277" y2="317.45" stroke="#141414" stroke-width="0.95"/>
<line x1="279" y1="317.45" x2="311.7" y2="317.45" stroke="#141414" stroke-width="0.95"/>
<path d="M301.2,285.9H303.3M301.2,291.1H303.3" fill="none" stroke="#141414" stroke-width="0.95"/>
<path d="M301.2,285.9H303.4M301.2,291.1H303.4" fill="none" stroke="#141414" stroke-width="0.95"/>
<path d="M303.4,284.1V292.9M303.4,284.1Q309.8,284.4 309.8,288.5Q309.8,292.6 303.4,292.9" fill="none" stroke="#141414" stroke-width="1.05"/>
<line x1="300.4" y1="288.5" x2="310.8" y2="288.5" stroke="#141414" stroke-width="0.85"/>
<line x1="305.2" y1="284.4" x2="305.2" y2="292.6" stroke="#141414" stroke-width="0.85"/>
<path d="M301.2,341.7H303.4M301.2,346.9H303.4" fill="none" stroke="#141414" stroke-width="0.95"/>
<path d="M303.4,339.9V348.7M303.4,339.9Q309.8,340.2 309.8,344.3Q309.8,348.4 303.4,348.7" fill="none" stroke="#141414" stroke-width="1.05"/>
<line x1="300.4" y1="344.3" x2="310.8" y2="344.3" stroke="#141414" stroke-width="0.85"/>
<line x1="305.2" y1="340.2" x2="305.2" y2="348.4" stroke="#141414" stroke-width="0.85"/>
<line x1="309.4" y1="344.3" x2="309.4" y2="365.3" stroke="#141414" stroke-width="0.85"/>
<line x1="223.5" y1="350.4" x2="223.5" y2="363" stroke="#141414" stroke-width="0.85"/>
<line x1="223.7" y1="361.2" x2="238.1" y2="361.2" stroke="#141414" stroke-width="0.85"/>
<path d="M223.7,361.2L228.98,360.07L228.98,362.32Z" fill="#141414"/>
<text transform="translate(231.6 359.6) scale(1 1.12)" font-size="8" text-anchor="middle" fill="#111" stroke="#111" stroke-width="0.13">30</text>
<line x1="238.4" y1="361" x2="309.2" y2="361" stroke="#141414" stroke-width="0.85"/>
<path d="M238.4,361L244.4,359.75L244.4,362.25Z" fill="#141414"/>
<path d="M309.2,361L303.2,362.25L303.2,359.75Z" fill="#141414"/>
<text transform="translate(274.3 359.6) scale(1 1.12)" font-size="8" text-anchor="middle" fill="#111" stroke="#111" stroke-width="0.13">141</text>
<line x1="214" y1="335.3" x2="214" y2="372.5" stroke="#141414" stroke-width="0.85"/>
<line x1="214.2" y1="371" x2="237.9" y2="371" stroke="#141414" stroke-width="0.85"/>
<path d="M214.2,371L220.2,369.75L220.2,372.25Z" fill="#141414"/>
<path d="M237.9,371L231.9,372.25L231.9,369.75Z" fill="#141414"/>
<text transform="translate(226.6 369.6) scale(1 1.12)" font-size="8" text-anchor="middle" fill="#111" stroke="#111" stroke-width="0.13">40</text>
<path d="M377.5,297.65A6.55,6.55 0 0 1 390.6,297.65V338.05A6.55,6.55 0 0 1 377.5,338.05Z" fill="none" stroke="#141414" stroke-width="1.15"/>
<path d="M433.9,297.55A6.45,6.45 0 0 1 446.8,297.55V337.85A6.45,6.45 0 0 1 433.9,337.85Z" fill="none" stroke="#141414" stroke-width="1.15"/>
<path d="M407.5,287.55A4.75,4.75 0 0 1 417,287.55V302.75A4.75,4.75 0 0 1 407.5,302.75Z" fill="none" stroke="#141414" stroke-width="1.15"/>
<path d="M407.3,333.45A4.75,4.75 0 0 1 416.8,333.45V348.55A4.75,4.75 0 0 1 407.3,348.55Z" fill="none" stroke="#141414" stroke-width="1.15"/>
<line x1="376.5" y1="297.6" x2="391.4" y2="297.6" stroke="#141414" stroke-width="0.95"/>
<line x1="384.05" y1="290.2" x2="384.05" y2="306" stroke="#141414" stroke-width="0.85"/>
<line x1="384.05" y1="308" x2="384.05" y2="309.3" stroke="#141414" stroke-width="0.85"/>
<line x1="384.05" y1="311.3" x2="384.05" y2="338.6" stroke="#141414" stroke-width="0.85"/>
<line x1="377.5" y1="284.6" x2="377.5" y2="297" stroke="#141414" stroke-width="0.85"/>
<line x1="390.5" y1="284.6" x2="390.5" y2="297" stroke="#141414" stroke-width="0.85"/>
<line x1="368.6" y1="288.4" x2="398" y2="288.4" stroke="#141414" stroke-width="0.85"/>
<path d="M368.4,288.4L373.92,287.15L373.92,289.65Z" fill="#141414"/>
<path d="M398.2,288.4L392.68,289.65L392.68,287.15Z" fill="#141414"/>
<text transform="translate(383.6 286.9) scale(1 1.12)" font-size="8" text-anchor="middle" fill="#111" stroke="#111" stroke-width="0.13">17</text>
<line x1="368.1" y1="292" x2="378.8" y2="292" stroke="#141414" stroke-width="0.95"/>
<line x1="368.1" y1="344.4" x2="380.6" y2="344.4" stroke="#141414" stroke-width="0.95"/>
<line x1="370.8" y1="292.2" x2="370.8" y2="344.2" stroke="#141414" stroke-width="0.85"/>
<path d="M370.8,292.2L372.05,298.2L369.55,298.2Z" fill="#141414"/>
<path d="M370.8,344.2L369.55,338.2L372.05,338.2Z" fill="#141414"/>
<text transform="translate(369.3 318) rotate(-90) scale(1 1)" font-size="7.9" text-anchor="middle" fill="#111" stroke="#111" stroke-width="0.13">94</text>
<line x1="412.2" y1="273.75" x2="412.2" y2="314.4" stroke="#141414" stroke-width="0.95"/>
<line x1="412.2" y1="317.6" x2="412.2" y2="319.2" stroke="#141414" stroke-width="0.95"/>
<line x1="412.2" y1="322.4" x2="412.2" y2="328.8" stroke="#141414" stroke-width="0.95"/>
<line x1="412.2" y1="328.8" x2="412.2" y2="353.3" stroke="#141414" stroke-width="0.95"/>
<line x1="407.5" y1="273.75" x2="407.5" y2="287.5" stroke="#141414" stroke-width="0.85"/>
<line x1="417" y1="273.75" x2="417" y2="287.5" stroke="#141414" stroke-width="0.85"/>
<line x1="398.2" y1="277.1" x2="424.6" y2="277.1" stroke="#141414" stroke-width="0.85"/>
<path d="M398,277.1L403.52,275.85L403.52,278.35Z" fill="#141414"/>
<path d="M424.8,277.1L419.28,278.35L419.28,275.85Z" fill="#141414"/>
<text transform="translate(411.6 276) scale(1 1.12)" font-size="8" text-anchor="middle" fill="#111" stroke="#111" stroke-width="0.13">6</text>
<line x1="405.2" y1="287.4" x2="418.4" y2="287.4" stroke="#141414" stroke-width="0.95"/>
<line x1="405.2" y1="302.7" x2="418.4" y2="302.7" stroke="#141414" stroke-width="0.95"/>
<line x1="399.3" y1="283.2" x2="417.7" y2="283.2" stroke="#141414" stroke-width="0.95"/>
<line x1="399.3" y1="307.5" x2="412.5" y2="307.5" stroke="#141414" stroke-width="0.95"/>
<line x1="401.5" y1="283.4" x2="401.5" y2="307.3" stroke="#141414" stroke-width="0.85"/>
<path d="M401.5,283.4L402.62,288.8L400.38,288.8Z" fill="#141414"/>
<path d="M401.5,307.3L400.38,301.9L402.62,301.9Z" fill="#141414"/>
<text transform="translate(399.9 294.9) rotate(-90) scale(1 1)" font-size="7.9" text-anchor="middle" fill="#111" stroke="#111" stroke-width="0.13">15</text>
<line x1="407.5" y1="295.8" x2="429.7" y2="295.8" stroke="#141414" stroke-width="0.95"/>
<line x1="412.2" y1="339.9" x2="430" y2="339.9" stroke="#141414" stroke-width="0.95"/>
<line x1="426.4" y1="296" x2="426.4" y2="339.7" stroke="#141414" stroke-width="0.85"/>
<path d="M426.4,296L427.65,302L425.15,302Z" fill="#141414"/>
<path d="M426.4,339.7L425.15,333.7L427.65,333.7Z" fill="#141414"/>
<text font-size="7.8" text-anchor="middle" fill="#111" stroke="#111" stroke-width="0.13" textLength="19.6" lengthAdjust="spacingAndGlyphs" transform="translate(424.9 316.8) rotate(-90) scale(1 1.1)">98±0.7</text>
<line x1="405.2" y1="333.2" x2="418.8" y2="333.2" stroke="#141414" stroke-width="0.95"/>
<line x1="405.2" y1="349.4" x2="418.8" y2="349.4" stroke="#141414" stroke-width="0.95"/>
<line x1="430.5" y1="297.6" x2="449" y2="297.6" stroke="#141414" stroke-width="0.95"/>
<line x1="430.5" y1="338.75" x2="449.7" y2="338.75" stroke="#141414" stroke-width="0.95"/>
<line x1="440.4" y1="290.5" x2="440.4" y2="305" stroke="#141414" stroke-width="0.85"/>
<line x1="440.4" y1="307" x2="440.4" y2="308.5" stroke="#141414" stroke-width="0.85"/>
<line x1="440.4" y1="310.5" x2="440.4" y2="338.75" stroke="#141414" stroke-width="0.85"/>
<path d="M445,292.5L449.5,285.2H460" fill="none" stroke="#141414" stroke-width="0.85"/>
<text transform="translate(446.8 284) scale(1 1.12)" font-size="8" text-anchor="start" fill="#111" stroke="#111" stroke-width="0.13">R8.5</text>
<path d="M416.8,350.5L420.4,356.7H430" fill="none" stroke="#141414" stroke-width="0.85"/>
<text transform="translate(421.6 355.9) scale(1 1.12)" font-size="8" text-anchor="start" fill="#111" stroke="#111" stroke-width="0.13">R3</text>
<line x1="384.1" y1="350" x2="384.1" y2="372.5" stroke="#141414" stroke-width="0.85"/>
<line x1="440.5" y1="350.4" x2="440.5" y2="372.5" stroke="#141414" stroke-width="0.85"/>
<line x1="384.6" y1="369.5" x2="440.3" y2="369.5" stroke="#141414" stroke-width="0.85"/>
<path d="M384.6,369.5L390.6,368.25L390.6,370.75Z" fill="#141414"/>
<path d="M440.3,369.5L434.3,370.75L434.3,368.25Z" fill="#141414"/>
<text transform="translate(412.4 367.6) scale(1 1.12)" font-size="8" text-anchor="middle" fill="#111" stroke="#111" stroke-width="0.13">72 ±0.2</text>
<rect x="506.7" y="279.25" width="59.4" height="75.15" fill="none" stroke="#141414" stroke-width="1.2"/>
<circle cx="518.3" cy="290.9" r="5.85" fill="none" stroke="#141414" stroke-width="1.15"/>
<text transform="translate(518.3 294) scale(1 1.17)" font-size="7.3" text-anchor="middle" fill="#111" stroke="#111" stroke-width="0.13">2</text>
<circle cx="557.4" cy="290.9" r="5.85" fill="none" stroke="#141414" stroke-width="1.15"/>
<text transform="translate(557.4 294) scale(1 1.17)" font-size="7.3" text-anchor="middle" fill="#111" stroke="#111" stroke-width="0.13">1</text>
<circle cx="518.3" cy="308.5" r="5.85" fill="none" stroke="#141414" stroke-width="1.15"/>
<text transform="translate(518.3 311.6) scale(1 1.17)" font-size="7.3" text-anchor="middle" fill="#111" stroke="#111" stroke-width="0.13">4</text>
<circle cx="557.4" cy="308.5" r="5.85" fill="none" stroke="#141414" stroke-width="1.15"/>
<text transform="translate(557.4 311.6) scale(1 1.17)" font-size="7.3" text-anchor="middle" fill="#111" stroke="#111" stroke-width="0.13">3</text>
<circle cx="518.3" cy="326.1" r="5.85" fill="none" stroke="#141414" stroke-width="1.15"/>
<text transform="translate(518.3 329.2) scale(1 1.17)" font-size="7.3" text-anchor="middle" fill="#111" stroke="#111" stroke-width="0.13">6</text>
<circle cx="557.4" cy="326.1" r="5.85" fill="none" stroke="#141414" stroke-width="1.15"/>
<text transform="translate(557.4 329.2) scale(1 1.17)" font-size="7.3" text-anchor="middle" fill="#111" stroke="#111" stroke-width="0.13">5</text>
<circle cx="518.3" cy="343.7" r="5.85" fill="none" stroke="#141414" stroke-width="1.15"/>
<text transform="translate(518.3 346.8) scale(1 1.17)" font-size="7.3" text-anchor="middle" fill="#111" stroke="#111" stroke-width="0.13">8</text>
<circle cx="557.4" cy="343.7" r="5.85" fill="none" stroke="#141414" stroke-width="1.15"/>
<text transform="translate(557.4 346.8) scale(1 1.17)" font-size="7.3" text-anchor="middle" fill="#111" stroke="#111" stroke-width="0.13">7</text>
<text transform="translate(512.73 369.3) scale(1 0.867)" font-size="8.3" font-weight="bold" text-anchor="start" fill="#111">背</text>
<text transform="translate(529.24 369.3) scale(1 0.867)" font-size="8.3" font-weight="bold" text-anchor="start" fill="#111">视</text>
</svg>
</body></html>
